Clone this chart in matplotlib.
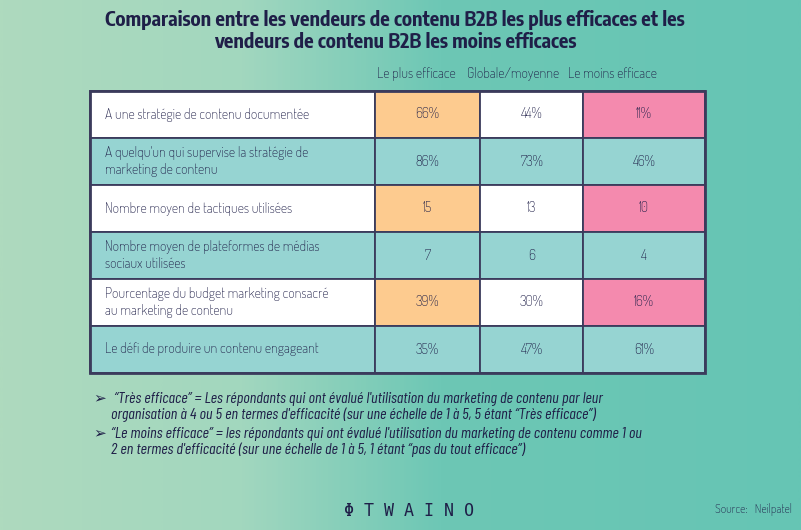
import matplotlib
matplotlib.use("Agg")
import matplotlib.pyplot as plt
import numpy as np
from matplotlib.patches import Rectangle
from matplotlib.colors import LinearSegmentedColormap

plt.rcParams['font.family'] = ['Dosis', 'DejaVu Sans']

title = "Comparaison entre les vendeurs de contenu B2B les plus efficaces et les\nvendeurs de contenu B2B les moins efficaces"
columns = ["Le plus efficace", "Globale/moyenne", "Le moins efficace"]
rows = [
    "A une stratégie de contenu documentée",
    "A quelqu'un qui supervise la stratégie de\nmarketing de contenu",
    "Nombre moyen de tactiques utilisées",
    "Nombre moyen de plateformes de médias\nsociaux utilisées",
    "Pourcentage du budget marketing consacré\nau marketing de contenu",
    "Le défi de produire un contenu engageant",
]
plus_efficace = ["66%", "86%", "15", "7", "39%", "35%"]
globale = ["44%", "73%", "13", "6", "30%", "47%"]
moins_efficace = ["11%", "46%", "10", "4", "16%", "61%"]
notes = [
    " \u201cTrès efficace\u201d = Les répondants qui ont évalué l'utilisation du marketing de contenu par leur\norganisation à 4 ou 5 en termes d'efficacité (sur une échelle de 1 à 5, 5 étant \u201cTrès efficace\u201d)",
    "\u201cLe moins efficace\u201d = les répondants qui ont évalué l'utilisation du marketing de contenu comme 1 ou\n2 en termes d'efficacité (sur une échelle de 1 à 5, 1 étant \u201cpas du tout efficace\u201d)",
]
source = "Source:   Neilpatel"

W, H = 801, 530
fig = plt.figure(figsize=(W / 100, H / 100), dpi=100)
ax = fig.add_axes([0, 0, 1, 1])
ax.set_xlim(0, W)
ax.set_ylim(H, 0)
ax.axis('off')

# background gradient
cmap = LinearSegmentedColormap.from_list('bg', [(0, '#aedabe'), (0.3, '#a2d7bf'), (0.55, '#6dc7b5'), (1, '#66c5b4')])
grad = np.linspace(0, 1, 400).reshape(1, -1)
ax.imshow(grad, cmap=cmap, extent=[0, W, H, 0], aspect='auto', zorder=0)

navy = '#1f1f48'
border = '#3b3b5c'

ax.text(395, 31, title, ha='center', va='center', fontsize=14.3, fontweight='bold',
        color=navy, linespacing=1.12, family=['Encode Sans Condensed', 'DejaVu Sans'])

# table geometry
x_edges = [90, 375, 480, 583, 705]
top, row_h = 91, 47
fills_white = ['white', '#fdcb8f', 'white', '#f48aae']
fills_teal = ['#96d4d2'] * 4
header_x = [416, 513, 612]
for hx, c in zip(header_x, columns):
    ax.text(hx, 74, c, ha='center', va='center', fontsize=10, color=navy)

values = list(zip(plus_efficace, globale, moins_efficace))
for i, (label, vals) in enumerate(zip(rows, values)):
    y0 = top + i * row_h
    fills = fills_white if i % 2 == 0 else fills_teal
    for j in range(4):
        ax.add_patch(Rectangle((x_edges[j], y0), x_edges[j + 1] - x_edges[j], row_h,
                               facecolor=fills[j], edgecolor=border, linewidth=1.3, zorder=2))
    ax.text(105, y0 + row_h / 2, label, ha='left', va='center', fontsize=10,
            color=navy, linespacing=1.2, zorder=3)
    for j, v in enumerate(vals):
        cx = (x_edges[j + 1] + x_edges[j + 2]) / 2
        ax.text(cx, y0 + row_h / 2, v, ha='center', va='center', fontsize=10,
                color=navy, zorder=3)
ax.add_patch(Rectangle((x_edges[0], top), x_edges[-1] - x_edges[0], row_h * len(rows),
                       facecolor='none', edgecolor=border, linewidth=2, zorder=4))

for k, note in enumerate(notes):
    yy = 407 + k * 35
    ax.text(93, yy - 9, '\u27a2', ha='left', va='center', fontsize=11, color=navy,
            family=['DejaVu Sans'])
    ax.text(111, yy, note, ha='left', va='center', fontsize=11.5, style='italic',
            color=navy, linespacing=1.15, family=['Barlow Condensed', 'DejaVu Sans'])

ax.text(409, 511, '\u03a6 T W A I N O', ha='center', va='center', fontsize=12,
        color=navy, family=['DejaVu Sans Mono', 'DejaVu Sans'])
ax.text(792, 510, source, ha='right', va='center', fontsize=8.5, color=navy)

fig.savefig('out.png', dpi=100)
